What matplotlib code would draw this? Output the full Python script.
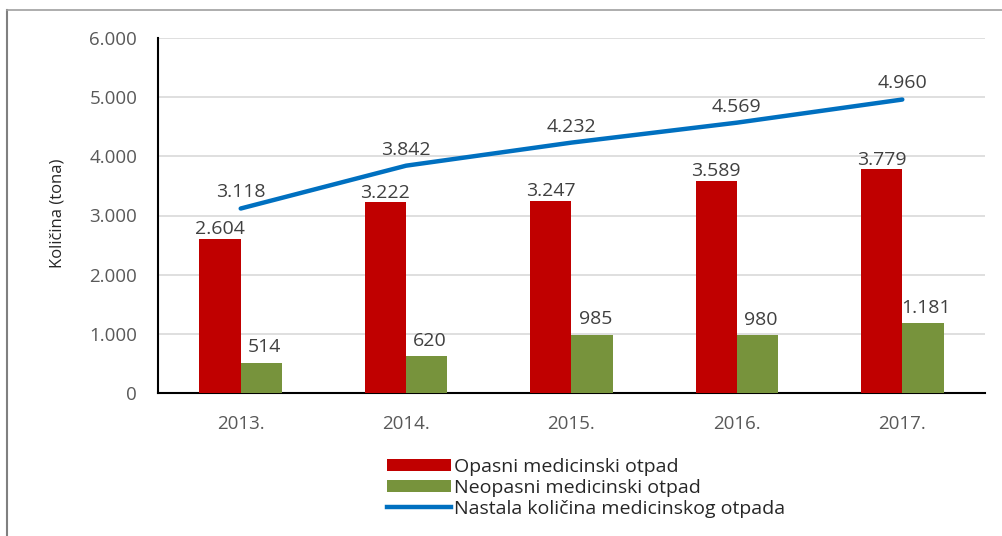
import matplotlib.pyplot as plt
from matplotlib.lines import Line2D
from matplotlib.patches import Patch
import numpy as np

plt.rcParams['font.family'] = ['Open Sans', 'DejaVu Sans']

# Data
years = ["2013.", "2014.", "2015.", "2016.", "2017."]
opasni = [2604, 3222, 3247, 3589, 3779]
neopasni = [514, 620, 985, 980, 1181]
ukupno = [3118, 3842, 4232, 4569, 4960]


def fmt(v):
    # thousands separator is a dot
    return "{:,}".format(v).replace(",", ".")


red = "#C00000"
green = "#77933C"
blue = "#0070C0"
text_col = "#404040"

fig = plt.figure(figsize=(10.03, 5.36), dpi=100)
ax = fig.add_axes([158 / 1003, 1 - 393 / 536, (985 - 158) / 1003, (393 - 38) / 536])

x = np.arange(len(years))
w = 0.25
ax.bar(x - w / 2, opasni, w, color=red, zorder=3)
ax.bar(x + w / 2, neopasni, w, color=green, zorder=3)
ax.plot(x, ukupno, color=blue, lw=3.2, solid_capstyle='round', zorder=4)

# Labels
for i in range(len(years)):
    ax.text(x[i] - w / 2, opasni[i] + 10, fmt(opasni[i]), ha='center', va='bottom',
            fontsize=14, color=text_col)
    ax.text(x[i] + w / 2 + 0.02, neopasni[i] + 110, fmt(neopasni[i]), ha='center', va='bottom',
            fontsize=14, color=text_col)
    ax.text(x[i], ukupno[i] + 120, fmt(ukupno[i]), ha='center', va='bottom',
            fontsize=14, color=text_col)

ax.set_xlim(-0.5, len(years) - 0.5)
ax.set_ylim(0, 6000)
ax.set_yticks(range(0, 6001, 1000))
ax.set_yticklabels([fmt(v) for v in range(0, 6001, 1000)])
ax.set_xticks(x)
ax.set_xticklabels(years)
ax.tick_params(axis='both', length=0, labelsize=13.5, colors="#595959")
ax.tick_params(axis='x', pad=16)
ax.tick_params(axis='y', pad=15)
ax.grid(axis='y', color="#D9D9D9", lw=1.2, zorder=0)
ax.set_axisbelow(True)
for s in ['top', 'right']:
    ax.spines[s].set_visible(False)
ax.spines['left'].set_color('black')
ax.spines['bottom'].set_color('black')
ax.spines['left'].set_linewidth(1.5)
ax.spines['bottom'].set_linewidth(1.5)

fig.text(58 / 1003, 1 - 213 / 536, "Količina (tona)", rotation=90, ha='center', va='center',
         fontsize=12, color="#262626")

# Legend
handles = [Patch(facecolor=red, edgecolor='none'),
           Patch(facecolor=green, edgecolor='none'),
           Line2D([0], [0], color=blue, lw=3.2)]
labels = ["Opasni medicinski otpad", "Neopasni medicinski otpad",
          "Nastala količina medicinskog otpada"]
fig.legend(handles, labels, loc='upper left', bbox_to_anchor=(377 / 1003, 1 - 448 / 536),
           frameon=False, fontsize=14, handlelength=3.3, handleheight=0.55,
           handletextpad=0.15, labelspacing=0.15, borderpad=0, labelcolor="#262626")

# Outer frame (left and top)
fig.add_artist(Line2D([7 / 1003, 7 / 1003], [0, 1 - 10 / 536], color="#808080", lw=1.5))
fig.add_artist(Line2D([7 / 1003, 1], [1 - 10 / 536, 1 - 10 / 536], color="#A0A0A0", lw=1.2))

fig.savefig("out.png", dpi=100)
